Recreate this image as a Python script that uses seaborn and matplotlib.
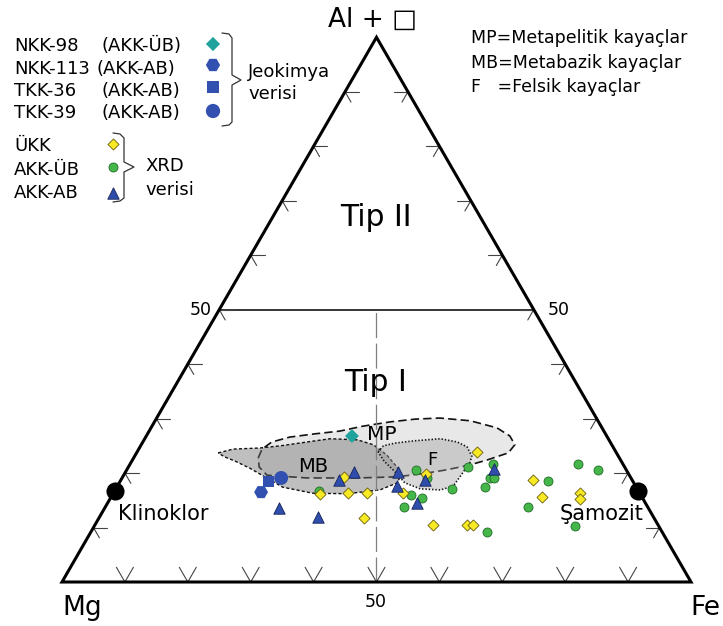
import numpy as np
import pandas as pd
import matplotlib
matplotlib.use("Agg")
import matplotlib.pyplot as plt
import seaborn as sns
from matplotlib.patches import Polygon

# ---------------- data: ternary percentages (Al+□, Fe); Mg = 100 - Al - Fe
ukk_al = [19.3, 16.2, 16.3, 16.3, 16.3, 11.8, 10.5, 19.8, 23.9, 18.7, 15.6, 16.3, 15.2, 10.5, 10.5]
ukk_fe = [35.2, 32.9, 37.3, 40.3, 46.0, 42.1, 53.8, 48.0, 54.0, 65.5, 68.5, 74.2, 74.7, 59.2, 60.1]

akkub_al = [16.7, 20.6, 19.1, 16.0, 15.4, 13.8, 21.1, 21.7, 17.1, 19.1, 19.1, 17.4, 21.7, 20.6, 18.5, 13.8, 10.3, 9.2]
akkub_fe = [32.5, 46.0, 48.5, 47.5, 49.5, 47.5, 54.0, 57.7, 53.5, 58.5, 59.1, 58.5, 71.2, 74.9, 68.0, 67.2, 76.4, 63.0]

akkab_al = [20.2, 18.7, 20.2, 17.6, 14.5, 13.6, 11.9, 18.7, 20.8]
akkab_fe = [36.3, 34.7, 43.3, 44.5, 49.2, 27.7, 34.7, 48.4, 58.3]

geo_names = ["NKK-98", "NKK-113", "TKK-36", "TKK-39"]
geo_groups = ["(AKK-ÜB)", "(AKK-AB)", "(AKK-AB)", "(AKK-AB)"]
geo_al = [26.8, 16.5, 18.5, 19.1]
geo_fe = [32.7, 23.4, 23.6, 25.3]

end_names = ["Klinoklor", "Şamozit"]
end_al = [16.7, 16.7]
end_fe = [0.0, 83.3]

mp_al = [22.8, 24.4, 25.7, 26.6, 27.2, 27.7, 28.6, 29.4, 29.9, 30.1, 29.6, 28.3, 26.8, 25.2,
         23.7, 22.4, 21.5, 20.6, 20.0, 19.3, 19.1, 19.1, 19.6, 21.1]
mp_fe = [19.8, 19.6, 20.5, 22.9, 26.6, 30.3, 33.5, 37.5, 41.2, 45.0, 50.1, 55.0, 57.8, 59.4,
         59.1, 56.4, 54.1, 50.9, 48.0, 43.6, 37.4, 29.4, 22.8, 20.8]
mb_al = [23.7, 24.4, 24.6, 25.0, 25.7, 26.3, 26.1, 25.2, 23.3, 21.1, 19.3, 18.2, 16.9, 16.2,
         16.3, 17.4, 19.5, 20.9, 22.2, 23.0]
mb_fe = [13.0, 15.0, 19.2, 22.2, 26.1, 29.5, 33.9, 36.9, 40.0, 42.7, 44.1, 44.2, 42.1, 37.2,
         31.7, 26.4, 22.2, 19.4, 16.4, 14.3]
f_al = [23.9, 25.0, 25.5, 25.9, 26.3, 25.7, 24.8, 23.1, 21.9, 19.3, 17.6, 16.9, 17.1, 18.2, 20.4, 22.2]
f_fe = [38.3, 38.6, 40.2, 42.9, 47.0, 50.0, 52.0, 53.6, 53.9, 53.6, 53.4, 51.7, 48.4, 45.4, 42.6, 40.1]

tick_levels = [10, 20, 30, 40, 50, 60, 70, 80, 90]

# ---------------- helpers
SQ = np.sqrt(3) / 2


def to_xy(al, fe):
    al = np.asarray(al, float) / 100.0
    fe = np.asarray(fe, float) / 100.0
    return fe + al / 2.0, al * SQ


W_PX, X0_PX, Y0_PX = 629.0, 62.0, 582.0


def P(px, py):
    """layout helper: figure pixel -> axes data coordinates"""
    return ((px - X0_PX) / W_PX, (Y0_PX - py) / W_PX)


sns.set_theme(style="white")
plt.rcParams["font.family"] = ["DejaVu Sans"]
plt.rcParams["text.color"] = "black"
plt.rcParams["lines.scale_dashes"] = False

fig = plt.figure(figsize=(7.23, 6.26), dpi=100)
ax = fig.add_axes([0, 0, 1, 1])
ax.set_xlim(P(0, 0)[0], P(723, 0)[0])
ax.set_ylim(P(0, 626)[1], P(0, 0)[1])
ax.axis("off")

# ---------------- fields
for al, fe, face, ls, lw, z in [
    (mp_al, mp_fe, (0.80, 0.80, 0.80, 0.45), (0, (6, 3)), 1.2, 1.0),
    (mb_al, mb_fe, (0.45, 0.45, 0.45, 0.45), (0, (2.2, 1.6)), 1.0, 1.1),
    (f_al, f_fe, (0.62, 0.62, 0.62, 0.40), (0, (1, 1.4)), 1.2, 1.2),
]:
    x, y = to_xy(al, fe)
    ax.add_patch(Polygon(np.column_stack([x, y]), closed=True, facecolor=face,
                         edgecolor="#111111", linestyle=ls, linewidth=lw, zorder=z))

# ---------------- frame, 50-line, dashed centre line, ticks
ax.plot([0.5, 0.5], [0, SQ / 2], color="#7f7f7f", lw=0.9, dashes=(18, 4), zorder=1.5)
ax.plot([0.25, 0.75], [SQ / 2, SQ / 2], color="black", lw=1.1, zorder=5)
ax.add_patch(Polygon([(0, 0), (1, 0), (0.5, SQ)], closed=True, fill=False,
                     edgecolor="black", lw=2.2, joinstyle="miter", zorder=6))

STEM, ARM, VARM = 0.022, 0.019, 0.027
tk = dict(color="#444444", lw=0.8, zorder=5)
for lev in tick_levels:
    t = lev / 100.0
    # left edge
    lx, ly = t / 2, t * SQ
    ax.plot([lx, lx + STEM], [ly, ly], **tk)
    ax.plot([lx + ARM * 0.5, lx, lx + ARM * 0.5], [ly + ARM * SQ, ly, ly - ARM * SQ], **tk)
    # right edge
    rx, ry = 1 - t / 2, t * SQ
    ax.plot([rx - STEM, rx], [ry, ry], **tk)
    ax.plot([rx - ARM * 0.5, rx, rx - ARM * 0.5], [ry + ARM * SQ, ry, ry - ARM * SQ], **tk)
    # bottom edge
    ax.plot([t - VARM * 0.5, t, t + VARM * 0.5], [VARM * SQ, 0, VARM * SQ], **tk)

# ---------------- data points
x, y = to_xy(akkub_al, akkub_fe)
sns.scatterplot(x=x, y=y, ax=ax, marker="o", s=42, color="#45b649", edgecolor="#1f6b25",
                linewidth=0.6, zorder=3, legend=False)
x, y = to_xy(ukk_al, ukk_fe)
sns.scatterplot(x=x, y=y, ax=ax, marker="D", s=32, color="#f7ea25", edgecolor="#6b5d10",
                linewidth=0.6, zorder=3.1, legend=False)
x, y = to_xy(akkab_al, akkab_fe)
sns.scatterplot(x=x, y=y, ax=ax, marker="^", s=68, color="#2f4dab", edgecolor="#17245a",
                linewidth=0.6, zorder=3.2, legend=False)

geo_df = pd.DataFrame({"name": geo_names, "al": geo_al, "fe": geo_fe})
geo_df["x"], geo_df["y"] = to_xy(geo_df["al"], geo_df["fe"])
geo_style = {"NKK-98": ("D", 50, "#1fa39c"), "NKK-113": ("H", 100, "#3150b0"),
             "TKK-36": ("s", 66, "#3150b0"), "TKK-39": ("o", 100, "#3150b0")}
for _, r in geo_df.iterrows():
    m, s, c = geo_style[r["name"]]
    sns.scatterplot(x=[r["x"]], y=[r["y"]], ax=ax, marker=m, s=s, color=c,
                    edgecolor="none", linewidth=0, zorder=3.5, legend=False)

x, y = to_xy(end_al, end_fe)
sns.scatterplot(x=x, y=y, ax=ax, marker="o", s=170, color="black", edgecolor="black",
                linewidth=0, zorder=7, legend=False)

# ---------------- texts
def T(px, py, s, size, ha="left", va="baseline", **kw):
    ax.text(*P(px, py), s, fontsize=size, ha=ha, va=va, zorder=8, color="black", **kw)


T(373, 26.7, "Al + □", 19, ha="center")
T(62, 615, "Mg", 19)
T(690, 615, "Fe", 19)
T(376, 226, "Tip II", 21.5, ha="center")
T(376, 391, "Tip I", 21.5, ha="center")
T(212, 315, "50", 12.5, ha="right")
T(548, 315, "50", 12.5)
T(376, 607, "50", 12.5, ha="center")
T(118, 520, end_names[0], 15)
T(560, 520, end_names[1], 15)
T(367, 440, "MP", 14.5)
T(298, 472, "MB", 14)
T(427, 465, "F", 13)

T(471, 43.5, "MP=Metapelitik kayaçlar", 12.5)
T(471, 68, "MB=Metabazik kayaçlar", 12.5)
T(471, 92.5, "F   =Felsik kayaçlar", 12.5)

# legend block (layout)
row_base = [51, 73.5, 96, 118.5]
grp_x = [102, 97, 102, 102]
mark_y = [44, 65, 87, 111]
for i, nm in enumerate(geo_names):
    T(14, row_base[i], nm, 13)
    T(grp_x[i], row_base[i], geo_groups[i], 13)
    m, s, c = geo_style[nm]
    ax.scatter(*P(213, mark_y[i]), marker=m, s=s * 1.05, color=c, edgecolor="none", zorder=8)
T(248, 77, "Jeokimya", 13)
T(248, 99, "verisi", 13)

xrd_labels = ["ÜKK", "AKK-ÜB", "AKK-AB"]
xrd_base = [151.5, 175, 198.3]
xrd_mark_y = [144, 166.7, 192.7]
xrd_style = [("D", 32, "#f7ea25", "#6b5d10"), ("o", 42, "#45b649", "#1f6b25"),
             ("^", 68, "#2f4dab", "#17245a")]
for i, lab in enumerate(xrd_labels):
    T(14, xrd_base[i], lab, 13)
    m, s, c, e = xrd_style[i]
    ax.scatter(*P(113, xrd_mark_y[i]), marker=m, s=s, color=c, edgecolor=e, linewidth=0.6, zorder=8)
T(145, 171.5, "XRD", 13)
T(145, 195, "verisi", 13)

# braces
def brace(pts):
    arr = np.array([P(px, py) for px, py in pts])
    ax.plot(arr[:, 0], arr[:, 1], color="#333333", lw=0.9, zorder=8, solid_joinstyle="round")


brace([(222, 33), (229, 34), (232, 38), (232, 75), (241, 80), (232, 85), (232, 122), (229, 125), (222, 126)])
brace([(113, 133), (120, 134), (124, 138), (124, 162), (134, 167), (124, 172), (124, 198), (120, 201), (113, 202)])

fig.savefig("out.png", dpi=100)
